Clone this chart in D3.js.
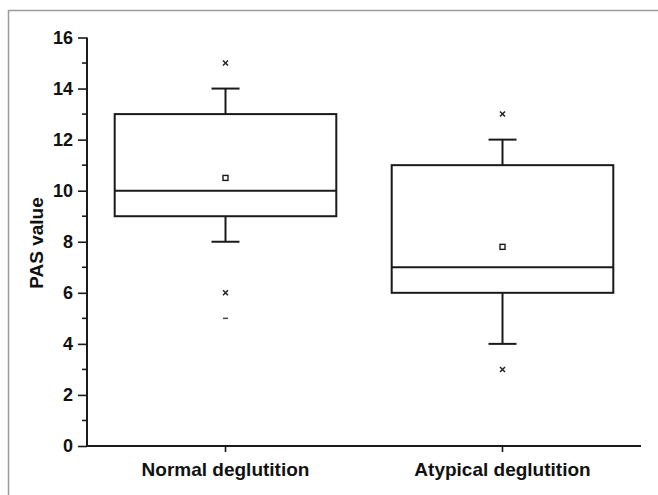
<!DOCTYPE html>
<html><head><meta charset="utf-8">
<script src="https://cdn.jsdelivr.net/npm/d3@7"></script>
<style>body{margin:0;background:#fff}svg{display:block}text{font-family:"Liberation Sans",Arial,sans-serif;font-weight:bold;fill:#111}</style>
</head><body>
<script>
const categories = ["Normal deglutition", "Atypical deglutition"];
const q1 = [9, 6];
const median = [10, 7];
const q3 = [13, 11];
const whiskerLow = [8, 4];
const whiskerHigh = [14, 12];
const means = [10.5, 7.8];
const crossOutliers = [[15, 6], [13, 3]];
const dashOutliers = [[5], []];
const yTicks = [0, 2, 4, 6, 8, 10, 12, 14, 16];
const yLabel = "PAS value";

const W = 658, H = 495;
const svg = d3.select("body").append("svg").attr("width", W).attr("height", H);
// frame
svg.append("path").attr("d", `M8.5,${H} V10.5 H${W}`).attr("fill","none").attr("stroke","#9a9a9a").attr("stroke-width",1.5);

const x0 = 87, x1 = 641, yTop = 37.5, yBot = 446;
const x = d3.scaleBand().domain(categories).range([x0, x1]).paddingInner(0.2).paddingOuter(0.1);
const y = d3.scaleLinear().domain([0, 16]).range([yBot, yTop]);
const ink = "#1a1a1a";

// y axis
const ya = svg.append("g").attr("transform", `translate(${x0},0)`)
  .call(d3.axisLeft(y).tickValues(yTicks).tickSize(9).tickPadding(5).tickFormat(d3.format("d")));
ya.select(".domain").attr("stroke", ink).attr("stroke-width", 2).attr("d", `M0,${yTop}V${yBot}`);
ya.selectAll(".tick line").attr("stroke", ink).attr("stroke-width", 1.6);
ya.selectAll(".tick text").style("font-size", "18px").attr("fill", "#111");
const minor = d3.range(1, 16, 2);
ya.selectAll(".minor").data(minor).join("line").attr("class","minor")
  .attr("x1", -5).attr("x2", 0).attr("y1", d => y(d)).attr("y2", d => y(d))
  .attr("stroke", ink).attr("stroke-width", 1.6);

// x axis
const xa = svg.append("g").attr("transform", `translate(0,${yBot})`)
  .call(d3.axisBottom(x).tickSize(6).tickPadding(11));
xa.select(".domain").attr("stroke", ink).attr("stroke-width", 2).attr("d", `M${x0},0H${x1}`);
xa.selectAll(".tick line").attr("stroke", ink).attr("stroke-width", 1.6);
xa.selectAll(".tick text").style("font-size", "19px").attr("fill", "#111");

// y label
svg.append("text").attr("transform", `translate(43,${243}) rotate(-90)`)
  .attr("text-anchor","middle").style("font-size","19px").text(yLabel);

// boxes
const bw = x.bandwidth(), cap = 14;
categories.forEach((c, i) => {
  const cx = x(c) + bw/2;
  const g = svg.append("g").attr("stroke", ink).attr("stroke-width", 2).attr("fill", "none");
  g.append("line").attr("x1", cx).attr("x2", cx).attr("y1", y(q3[i])).attr("y2", y(whiskerHigh[i]));
  g.append("line").attr("x1", cx).attr("x2", cx).attr("y1", y(q1[i])).attr("y2", y(whiskerLow[i]));
  g.append("line").attr("x1", cx-cap).attr("x2", cx+cap).attr("y1", y(whiskerHigh[i])).attr("y2", y(whiskerHigh[i]));
  g.append("line").attr("x1", cx-cap).attr("x2", cx+cap).attr("y1", y(whiskerLow[i])).attr("y2", y(whiskerLow[i]));
  g.append("rect").attr("x", x(c)).attr("width", bw).attr("y", y(q3[i])).attr("height", y(q1[i]) - y(q3[i]));
  g.append("line").attr("x1", x(c)).attr("x2", x(c)+bw).attr("y1", y(median[i])).attr("y2", y(median[i]));
  // mean square
  svg.append("rect").attr("x", cx-2.5).attr("y", y(means[i])-2.5).attr("width",5).attr("height",5)
    .attr("fill","#fff").attr("stroke", ink).attr("stroke-width",1.4);
  crossOutliers[i].forEach(v => {
    const yy = y(v), s = 2.5;
    svg.append("path").attr("d", `M${cx-s},${yy-s}L${cx+s},${yy+s}M${cx+s},${yy-s}L${cx-s},${yy+s}`)
      .attr("stroke", "#222").attr("stroke-width", 1.5);
  });
  dashOutliers[i].forEach(v => {
    svg.append("line").attr("x1", cx-2.5).attr("x2", cx+2.5).attr("y1", y(v)).attr("y2", y(v))
      .attr("stroke", "#444").attr("stroke-width", 1.5);
  });
});
</script>
</body></html>
